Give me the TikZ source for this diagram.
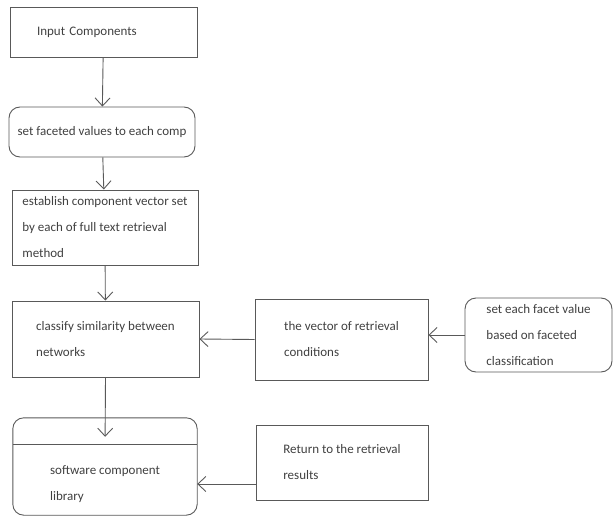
\documentclass[tikz,border=0pt]{standalone}
\usepackage{fontspec}
\setmainfont{Carlito}
\usetikzlibrary{arrows.meta}
\begin{document}
\begin{tikzpicture}[x=1pt, y=-1pt,
    every node/.style={font=\fontsize{13}{26}\selectfont, text=black!75},
    box/.style={draw=black!65, line width=0.9pt, align=left, inner ysep=3pt},
    roundbox/.style={box, rounded corners=11pt},
    arr/.style={draw=black!65, line width=0.9pt, -{Straight Barb[length=8pt,width=15pt]}}]
    \useasboundingbox (0,0) rectangle (613,516);
    % main column
    \node[box, minimum width=187pt, minimum height=50pt, text width=133pt,
        inner xsep=27pt] (n-input) at (103.5,32) {Input Components};
    \node[roundbox, minimum width=186pt, minimum height=50pt, inner xsep=2pt]
        (n-facet) at (102,132) {set faceted values to each comp};
    \node[box, minimum width=186pt, minimum height=75pt, inner xsep=4pt]
        (n-vecset) at (105,227.5) {establish component vector set\\by each of full text retrieval\\method};
    \node[box, minimum width=187pt, minimum height=76pt] (n-classify)
        at (105.5,339) {classify similarity between\\networks};
    \node[align=left, minimum width=184pt, minimum height=62pt, inner ysep=2pt]
        (n-lib) at (105,484) {software component\\library};
    \draw[draw=black!65, line width=0.9pt, rounded corners=11pt]
        (n-lib.south west) rectangle ([yshift=35pt]n-lib.north east);
    \draw[draw=black!65, line width=0.9pt] ([yshift=8pt]n-lib.north west) -- ([yshift=8pt]n-lib.north east);
    % right side
    \node[box, minimum width=173pt, minimum height=81pt] (n-cond)
        at (341.5,339.5) {the vector of retrieval\\conditions};
    \node[roundbox, minimum width=147pt, minimum height=74pt, inner ysep=2pt]
        (n-value) at (538.5,335) {set each facet value\\based on faceted\\classification};
    \node[box, minimum width=172pt, minimum height=75pt] (n-return)
        at (342,462.5) {Return to the retrieval\\results};
    % connectors
    \draw[arr] (n-input) -- (n-facet);
    \draw[arr] (n-facet) -- (n-vecset);
    \draw[arr] (n-vecset) -- (n-classify);
    \draw[arr, shorten >=16pt] (n-classify.south) -- (n-lib.north);
    \draw[arr] (n-cond.west) -- (n-classify.east);
    \draw[arr] (n-value.west) -- (n-cond.east |- n-value.west);
    \draw[arr] (n-return.west |- n-lib.east) -- (n-lib.east);
\end{tikzpicture}
\end{document}
